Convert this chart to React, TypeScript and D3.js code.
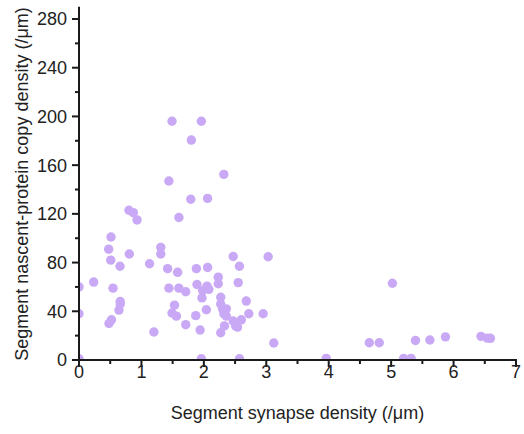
import React from "react";
import * as d3 from "d3";

const xs: number[] = [
  0, 0, 0, 0.235, 0.475, 0.513, 0.508, 0.806, 0.657, 0.545, 0.66, 0.66, 0.64, 0.52, 0.48,
  1.13, 1.31, 1.31, 1.2, 1.42, 1.58, 1.44, 1.6, 1.71, 1.53, 1.49, 1.56, 1.71,
  1.88, 2.06, 1.89, 1.98, 2.05, 2.08, 1.97, 2.04, 1.87, 1.94, 1.96,
  2.23, 2.23, 2.27, 2.27, 2.3, 2.36, 2.32, 2.36, 2.33, 2.27,
  2.47, 2.57, 2.55, 2.68, 2.72, 2.47, 2.51, 2.54, 2.6, 2.57, 2.95,
  1.49, 1.96, 1.8, 2.32, 1.44, 1.79, 2.06, 0.8, 0.87, 0.93, 1.6,
  3.03, 3.12, 3.96, 5.02, 4.65, 4.81, 5.2, 5.32, 5.39, 5.62, 5.87, 6.44, 6.54, 6.59,
];
const ys: number[] = [
  60, 38, 1, 64, 91, 101, 82, 87, 77, 59, 48, 46, 41, 33, 30,
  79, 92.5, 87, 23, 75, 72, 59, 59, 56, 45, 38.6, 36, 29,
  75, 76, 62, 57, 60.7, 58, 51, 41.3, 36.4, 24.6, 1,
  68, 62.6, 51.5, 46, 42, 42, 38, 36, 28, 22.4,
  85, 77, 63.5, 48.4, 38, 32, 28, 27, 33, 1, 38,
  196, 196, 180.6, 152.4, 147, 132, 132.7, 123, 121, 115, 117,
  84.8, 14, 1.3, 63, 14.2, 14.2, 1.3, 1.3, 16, 16.4, 19, 19.4, 18, 17.8,
];

const xTicks = [0, 1, 2, 3, 4, 5, 6, 7];
const xMinor = [0.5, 1.5, 2.5, 3.5, 4.5, 5.5, 6.5];
const yTicks = [0, 40, 80, 120, 160, 200, 240, 280];
const yMinor = [20, 60, 100, 140, 180, 220, 260];

const xLabel = "Segment synapse density (/\u03bcm)";
const yLabel = "Segment nascent-protein copy density (/\u03bcm)";

export default function App() {
  const W = 524, H = 434;
  const x = d3.scaleLinear().domain([0, 7]).range([79, 516]);
  const y = d3.scaleLinear().domain([0, 280]).range([360, 19]);
  const font = "'Liberation Sans', Arial, sans-serif";
  const axisColor = "#1a1a1a";
  const pts = xs.map((v, i) => ({ x: v, y: ys[i] }));
  return (
    <svg width={W} height={H} style={{ position: "absolute", left: 0, top: 0, background: "#fff" }}>
      <defs>
        <clipPath id="plot">
          <rect x={x(0)} y={0} width={x(7) - x(0) + 10} height={y(0)} />
        </clipPath>
      </defs>
      <g clipPath="url(#plot)">
        {pts.map((p, i) => (
          <circle key={i} cx={x(p.x)} cy={y(p.y)} r={4.7} fill="#c9a9f5" />
        ))}
      </g>
      {/* axes */}
      <line x1={x(0)} x2={x(0)} y1={y(0) + 1} y2={y(290)} stroke={axisColor} strokeWidth={2} />
      <line x1={x(0) - 1} x2={x(7) + 1} y1={y(0)} y2={y(0)} stroke={axisColor} strokeWidth={2} />
      {yTicks.map((t) => (
        <g key={"yt" + t}>
          <line x1={x(0) - 7} x2={x(0)} y1={y(t)} y2={y(t)} stroke={axisColor} strokeWidth={2} />
          <text x={x(0) - 12} y={y(t)} dy="0.36em" textAnchor="end" fontFamily={font} fontSize={18} fill="#222">
            {t}
          </text>
        </g>
      ))}
      {yMinor.map((t) => (
        <line key={"ym" + t} x1={x(0) - 4} x2={x(0)} y1={y(t)} y2={y(t)} stroke={axisColor} strokeWidth={2} />
      ))}
      {xTicks.map((t) => (
        <g key={"xt" + t}>
          <line x1={x(t)} x2={x(t)} y1={y(0)} y2={y(0) + 7} stroke={axisColor} strokeWidth={2} />
          <text x={x(t)} y={378} textAnchor="middle" fontFamily={font} fontSize={18} fill="#222">
            {t}
          </text>
        </g>
      ))}
      {xMinor.map((t) => (
        <line key={"xm" + t} x1={x(t)} x2={x(t)} y1={y(0)} y2={y(0) + 4} stroke={axisColor} strokeWidth={2} />
      ))}
      <text x={(x(0) + x(7)) / 2 + 0} y={419} textAnchor="middle" fontFamily={font} fontSize={18} fill="#222">
        {xLabel}
      </text>
      <text
        transform={`translate(28,184) rotate(-90)`}
        textAnchor="middle"
        fontFamily={font}
        fontSize={18}
        fill="#222"
      >
        {yLabel}
      </text>
    </svg>
  );
}
